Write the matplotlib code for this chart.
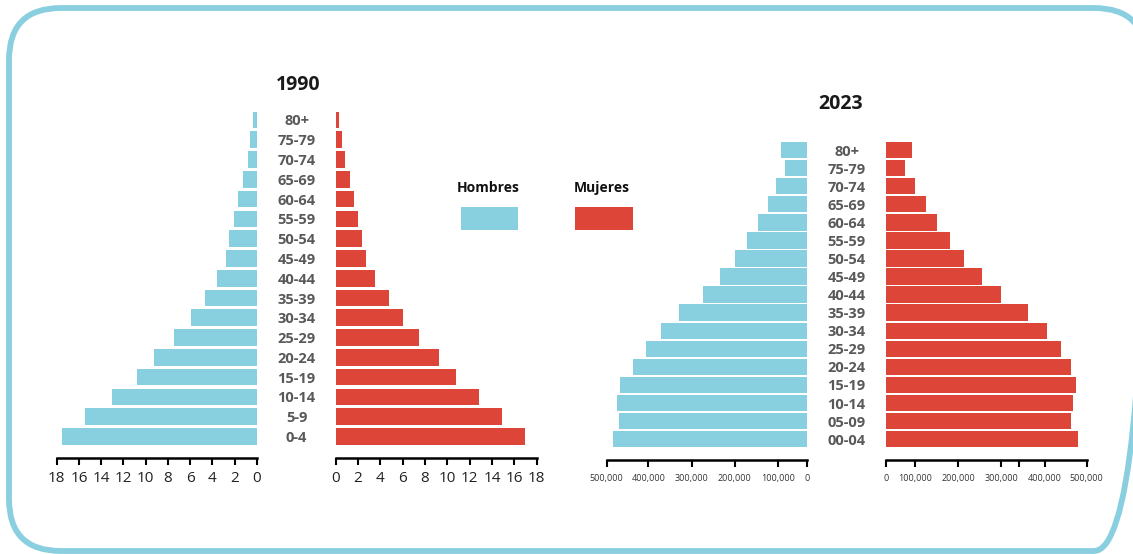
import numpy as np
import matplotlib
matplotlib.use("Agg")
import matplotlib.pyplot as plt
from matplotlib.patches import FancyBboxPatch, Rectangle
from matplotlib.ticker import FuncFormatter

# ---------------- data ----------------
edades_1990 = ["0-4", "5-9", "10-14", "15-19", "20-24", "25-29", "30-34", "35-39",
               "40-44", "45-49", "50-54", "55-59", "60-64", "65-69", "70-74", "75-79", "80+"]
hombres_1990 = [17.5, 15.45, 13.05, 10.8, 9.25, 7.5, 5.9, 4.7,
                3.6, 2.8, 2.5, 2.1, 1.7, 1.3, 0.85, 0.6, 0.33]
mujeres_1990 = [16.95, 14.9, 12.85, 10.75, 9.25, 7.5, 6.0, 4.8,
                3.5, 2.7, 2.35, 2.0, 1.6, 1.3, 0.85, 0.6, 0.33]
ticks_1990 = [0, 2, 4, 6, 8, 10, 12, 14, 16, 18]

edades_2023 = ["00-04", "05-09", "10-14", "15-19", "20-24", "25-29", "30-34", "35-39",
               "40-44", "45-49", "50-54", "55-59", "60-64", "65-69", "70-74", "75-79", "80+"]
hombres_2023 = [486000, 471000, 476000, 468000, 438000, 405000, 372000, 329000,
                274000, 235000, 199000, 172000, 147000, 124000, 106000, 76000, 91000]
mujeres_2023 = [478000, 463000, 468000, 474000, 463000, 438000, 406000, 360000,
                299000, 255000, 213000, 180000, 151000, 126000, 101000, 67000, 89000]
ticks_2023 = [0, 100000, 200000, 300000, 400000, 500000]
tick_extra_2023 = [340000]

# ---------------- style ----------------
AZUL = "#88CFE0"
ROJO = "#DC4538"
MARCO = "#8ACFE0"
GRIS = "#595959"
FONT = ["Open Sans", "DejaVu Sans"]
plt.rcParams["font.family"] = FONT

W, H = 1133, 554
fig = plt.figure(figsize=(W / 100, H / 100), dpi=100)
fig.patch.set_facecolor("white")


def px_axes(x0, x1, ytop, ybot):
    """Axes placed by pixel edges (origin top-left)."""
    ax = fig.add_axes([x0 / W, 1 - ybot / H, (x1 - x0) / W, (ybot - ytop) / H])
    ax.patch.set_alpha(0)
    return ax


# background layer: frame, titles, legend
bg = fig.add_axes([0, 0, 1, 1])
bg.set_zorder(-1)
bg.set_xlim(0, W)
bg.set_ylim(H, 0)
bg.axis("off")
bg.add_patch(FancyBboxPatch((9, 8), 1146 - 9, 551 - 8,
                            boxstyle="round,pad=0,rounding_size=52",
                            lw=4.2, ec=MARCO, fc="none"))
bg.text(298, 85, "1990", ha="center", va="center", fontsize=14,
        fontweight="bold", color="#1a1a1a")
bg.text(841, 104, "2023", ha="center", va="center", fontsize=14,
        fontweight="bold", color="#1a1a1a")
bg.text(488, 188, "Hombres", ha="center", va="center", fontsize=10,
        fontweight="bold", color="#111111")
bg.text(602, 188, "Mujeres", ha="center", va="center", fontsize=10,
        fontweight="bold", color="#111111")
bg.add_patch(Rectangle((460.7, 206.7), 57, 23.3, color=AZUL, lw=0))
bg.add_patch(Rectangle((575, 206.7), 57.7, 23.3, color=ROJO, lw=0))


def style_axis(ax, labelsize, pad):
    for s in ("left", "right", "top"):
        ax.spines[s].set_visible(False)
    ax.spines["bottom"].set_linewidth(1.8)
    ax.spines["bottom"].set_color("black")
    ax.tick_params(axis="x", which="both", direction="out", length=5, width=1.5,
                   color="black", labelsize=labelsize, labelcolor="#222222", pad=pad)


def age_labels(ax, labels, pad):
    ax.set_yticks(range(len(labels)))
    ax.set_yticklabels(labels)
    ax.tick_params(axis="y", length=0, pad=pad, labelsize=10.5, labelcolor=GRIS)
    for t in ax.get_yticklabels():
        t.set_ha("center")
        t.set_fontweight("bold")


y = np.arange(len(edades_1990))

# ---------------- 1990 ----------------
ax_h90 = px_axes(56.7, 257, 108.1, 458)
ax_h90.barh(y, hombres_1990, height=0.84, color=AZUL, lw=0)
ax_h90.set_xlim(18, 0)
ax_h90.set_ylim(-1.087, 16.6)
ax_h90.set_xticks(ticks_1990)
ax_h90.set_yticks([])
style_axis(ax_h90, 11, 4.5)

ax_m90 = px_axes(335.7, 536.7, 108.1, 458)
ax_m90.barh(y, mujeres_1990, height=0.84, color=ROJO, lw=0)
ax_m90.set_xlim(0, 18)
ax_m90.set_ylim(-1.087, 16.6)
ax_m90.set_xticks(ticks_1990)
style_axis(ax_m90, 11, 4.5)
age_labels(ax_m90, edades_1990, 28.2)

# ---------------- 2023 ----------------
# uneven axis: the first 100,000 spans a shorter stretch than the rest
_v = [-500000, 0, 100000, 200000, 300000, 400000, 500000, 1000000]
_d = [-200.0, 0.0, 28.7, 72.2, 115.3, 158.8, 200.5, 400.0]


def fwd(v):
    return np.interp(v, _v, _d)


def inv(d):
    return np.interp(d, _d, _v)


fmt = FuncFormatter(lambda v, p: f"{int(round(v)):,}")

ax_h23 = px_axes(606.7, 807, 139.2, 460)
ax_h23.set_xscale("function", functions=(fwd, inv))
ax_h23.barh(y, hombres_2023, height=0.91, color=AZUL, lw=0)
ax_h23.set_xlim(500000, 0)
ax_h23.set_ylim(-1.15, 16.6)
ax_h23.set_xticks(ticks_2023)
ax_h23.xaxis.set_major_formatter(fmt)
ax_h23.set_yticks([])
style_axis(ax_h23, 6.5, 5)

ax_m23 = px_axes(886, 1086.7, 139.2, 460)
ax_m23.set_xscale("function", functions=(fwd, inv))
ax_m23.barh(y, mujeres_2023, height=0.91, color=ROJO, lw=0)
ax_m23.set_xlim(0, 500000)
ax_m23.set_ylim(-1.15, 16.6)
ax_m23.set_xticks(ticks_2023)
ax_m23.set_xticks(tick_extra_2023, minor=True)
ax_m23.xaxis.set_major_formatter(fmt)
ax_m23.xaxis.set_minor_formatter(FuncFormatter(lambda v, p: ""))
style_axis(ax_m23, 6.5, 5)
age_labels(ax_m23, edades_2023, 28.4)

for ax in (ax_h23, ax_m23):
    ax.tick_params(axis="x", labelcolor="#333333")

fig.savefig("out.png", dpi=100)
